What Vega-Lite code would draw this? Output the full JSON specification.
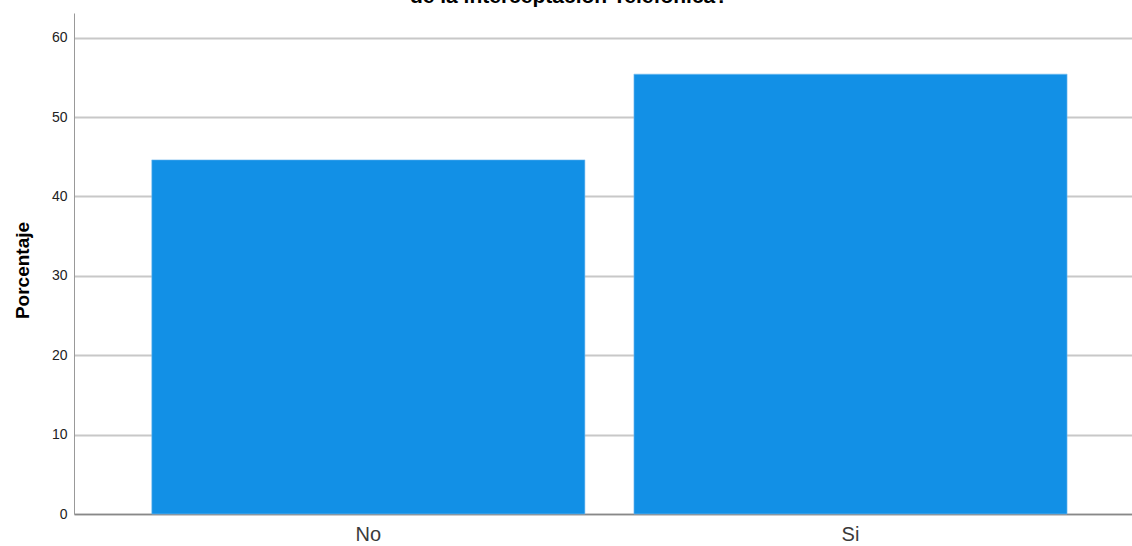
{
  "$schema": "https://vega.github.io/schema/vega-lite/v6.json",
  "autosize": {"type": "none"},
  "width": 1058,
  "height": 501,
  "padding": {"left": 74, "top": 13, "right": 0, "bottom": 32},
  "background": "white",
  "title": {
    "text": "de la interceptación Telefónica?",
    "font": "Liberation Sans",
    "fontSize": 21,
    "fontWeight": "bold",
    "color": "#000000",
    "anchor": "middle",
    "baseline": "alphabetic",
    "offset": 0,
    "dy": 11,
    "dx": -34
  },
  "data": {
    "values": [
      {"respuesta": "No", "porcentaje": 44.6},
      {"respuesta": "Si", "porcentaje": 55.4}
    ]
  },
  "mark": {"type": "bar", "color": "#1290E6", "stroke": "#7bbdf0", "strokeWidth": 0.6},
  "encoding": {
    "x": {
      "field": "respuesta",
      "type": "nominal",
      "title": null,
      "scale": {"paddingInner": 0.1017, "paddingOuter": 0.148, "align": 0.545},
      "axis": {
        "labelAngle": 0,
        "labelFont": "Liberation Sans",
        "labelFontSize": 20,
        "labelColor": "#3a3a3a",
        "labelPadding": 10,
        "ticks": false,
        "domainColor": "#888888",
        "domainWidth": 1.5
      }
    },
    "y": {
      "field": "porcentaje",
      "type": "quantitative",
      "title": "Porcentaje",
      "scale": {"domain": [0, 63.1], "nice": false},
      "axis": {
        "values": [0, 10, 20, 30, 40, 50, 60],
        "labelFont": "Liberation Sans",
        "labelFontSize": 14,
        "labelColor": "#222222",
        "labelPadding": 7,
        "ticks": false,
        "domainColor": "#999999",
        "domainWidth": 1,
        "gridColor": "#c8c8c8",
        "gridWidth": 2,
        "titleFont": "Liberation Sans",
        "titleFontSize": 19,
        "titleFontWeight": "bold",
        "titleColor": "#000000",
        "titlePadding": 19,
        "titleY": 257
      }
    }
  },
  "config": {"view": {"stroke": null}}
}
